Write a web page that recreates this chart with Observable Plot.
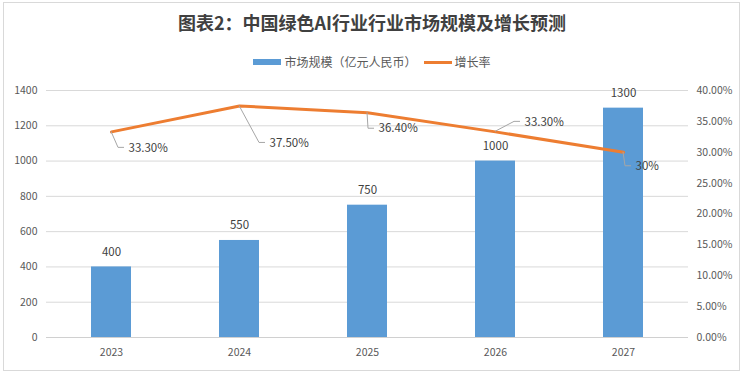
<!DOCTYPE html>
<html>
<head>
<meta charset="utf-8">
<script src="https://cdn.jsdelivr.net/npm/d3@7"></script>
<script src="https://cdn.jsdelivr.net/npm/@observablehq/plot@0.6"></script>
<style>
  html, body { margin: 0; padding: 0; background: #fff; }
  #wrap { position: relative; width: 744px; height: 374px; overflow: hidden; font-family: "Noto Sans CJK SC", "Noto Sans", sans-serif; }
  #frame { position: absolute; left: 3px; top: 2px; width: 737px; height: 369px; border: 1px solid #d9d9d9; box-sizing: border-box; }
  #title { position: absolute; left: 0; width: 744px; top: 9px; text-align: center; font-size: 18px; font-weight: bold; color: #404040; line-height: 26px; }
  #legend { position: absolute; left: 0; width: 744px; top: 53px; display: flex; justify-content: center; align-items: center; font-size: 12px; color: #595959; line-height: 18px; }
  .sw-bar { display: inline-block; width: 28px; height: 6px; background: #5b9bd5; margin-right: 3px; }
  .sw-line { display: inline-block; width: 28px; height: 3px; background: #ed7d31; margin: 0 3px 0 7px; }
  #chart { position: absolute; left: 0; top: 74px; }
</style>
</head>
<body>
<div id="wrap">
  <div id="frame"></div>
  <div id="title"></div>
  <div id="legend"></div>
  <div id="chart"></div>
</div>
<script>
// ---- data ----
const titleText = "图表2：中国绿色AI行业行业市场规模及增长预测";
const seriesNames = ["市场规模（亿元人民币）", "增长率"];
const years = ["2023", "2024", "2025", "2026", "2027"];
const marketSize = [400, 550, 750, 1000, 1300];
const growthRate = [33.3, 37.5, 36.4, 33.3, 30];
const growthLabels = ["33.30%", "37.50%", "36.40%", "33.30%", "30%"];
const leftTicks = [0, 200, 400, 600, 800, 1000, 1200, 1400];
const rightTicks = [0, 5, 10, 15, 20, 25, 30, 35, 40];
const rightTickLabels = ["0.00%", "5.00%", "10.00%", "15.00%", "20.00%", "25.00%", "30.00%", "35.00%", "40.00%"];

// ---- layout / style (not data) ----
const leftMax = 1400, rightMax = 40;
const toLeft = p => p / rightMax * leftMax;  // map right-axis % into left-axis units
// label offsets in pixels [dx, dy] relative to each line point
const labelOffsets = [[17, 16], [30, 37], [11, 16], [29, -10], [12, 14]];

document.getElementById("title").textContent = titleText;
document.getElementById("legend").innerHTML =
  `<span class="sw-bar"></span><span>${seriesNames[0]}</span><span class="sw-line"></span><span>${seriesNames[1]}</span>`;

const data = years.map((y, i) => ({year: y, size: marketSize[i], rate: growthRate[i], label: growthLabels[i], i}));

const font = "'Noto Sans CJK SC', 'Noto Sans', sans-serif";

const labelMarks = data.map((d, i) => Plot.text([d], {
  x: "year", y: dd => toLeft(dd.rate), text: "label",
  dx: labelOffsets[i][0], dy: labelOffsets[i][1],
  textAnchor: "start", fill: "#404040", fontSize: 11.5
}));

const chart = Plot.plot({
  width: 744,
  height: 300,
  marginLeft: 46,
  marginRight: 56,
  marginTop: 16,
  marginBottom: 37,
  style: {fontFamily: font, background: "transparent"},
  x: {domain: years, paddingInner: 0.69, paddingOuter: 0.345, label: null},
  y: {domain: [0, leftMax], label: null},
  marks: [
    Plot.ruleY(leftTicks.filter(t => t > 0), {stroke: "#d9d9d9", strokeWidth: 1}),
    Plot.ruleY([0], {stroke: "#d0d0d0", strokeWidth: 1}),
    Plot.axisY({ticks: leftTicks, tickSize: 0, tickPadding: 9, fontSize: 10.5, color: "#595959", label: null, anchor: "left",
      tickFormat: v => String(v)}),
    Plot.axisY({ticks: rightTicks.map(toLeft), tickSize: 0, tickPadding: 8, fontSize: 10.5, color: "#595959", label: null, anchor: "right",
      tickFormat: v => rightTickLabels[rightTicks.indexOf(Math.round(v / leftMax * rightMax * 100) / 100)]}),
    Plot.axisX({tickSize: 0, tickPadding: 11, fontSize: 10.5, color: "#595959", label: null}),
    Plot.barY(data, {x: "year", y: "size", fill: "#5b9bd5"}),
    Plot.text(data, {x: "year", y: "size", text: d => String(d.size), dy: -15, fill: "#404040", fontSize: 11.5}),
    Plot.line(data, {x: "year", y: d => toLeft(d.rate), stroke: "#ed7d31", strokeWidth: 3, strokeLinejoin: "round"}),
    ...labelMarks
  ]
});

document.getElementById("chart").appendChild(chart);

// leader lines from each line point to its label, positioned with Plot's own scales
const xs = chart.scale("x"), ys = chart.scale("y");
const g = d3.select(chart).append("g").attr("fill", "none").attr("stroke", "#a6a6a6").attr("stroke-width", 1);
data.forEach((d, i) => {
  const px = xs.apply(d.year) + (xs.bandwidth || 0) / 2;
  const py = ys.apply(toLeft(d.rate));
  const [dx, dy] = labelOffsets[i];
  const bend = Math.max(dx - 10, 1);
  g.append("path").attr("d", `M${px},${py}L${px + bend},${py + dy}L${px + dx - 4},${py + dy}`);
});
</script>
</body>
</html>
